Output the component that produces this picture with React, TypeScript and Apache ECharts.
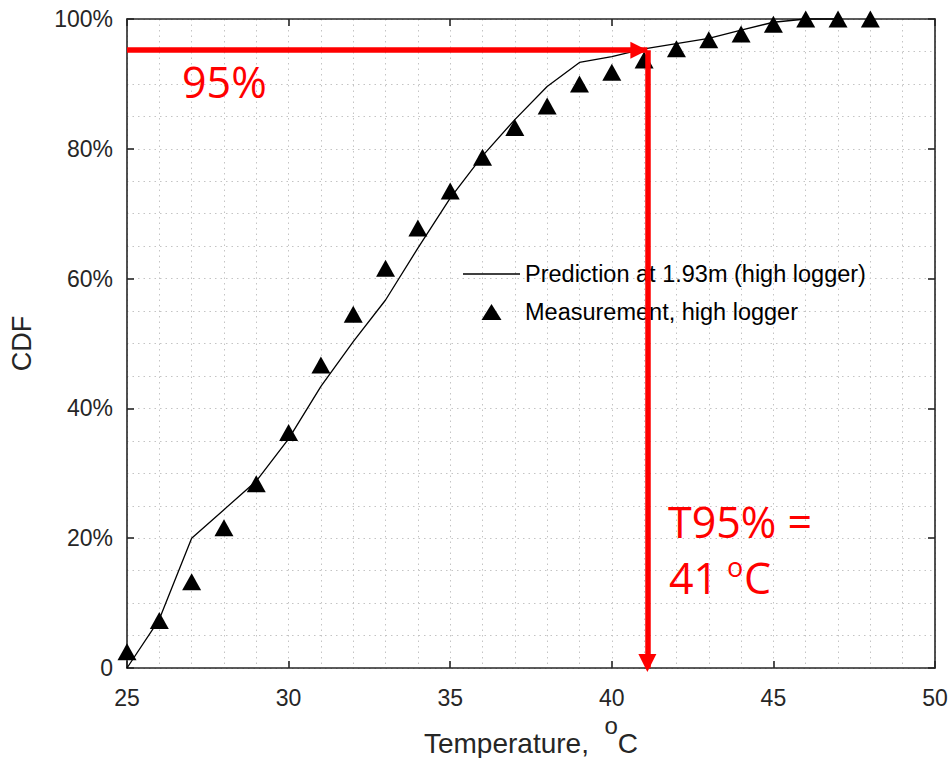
import React, { useEffect, useRef } from "react";
import * as echarts from "echarts";

// Measurement (triangles): temperature (°C) and CDF (%)
const measTemps = [25, 26, 27, 28, 29, 30, 31, 32, 33, 34, 35, 36, 37, 38, 39, 40, 41, 42, 43, 44, 45, 46, 47, 48];
const measCdf = [2.5, 7.3, 13.3, 21.6, 28.4, 36.3, 46.7, 54.5, 61.6, 67.8, 73.5, 78.7, 83.3, 86.6, 90.0, 91.8, 93.7, 95.4, 96.8, 97.7, 99.2, 100, 100, 100];

// Prediction (line)
const predTemps = [25, 26, 27, 28, 29, 30, 31, 32, 33, 34, 35, 36, 37, 38, 39, 40, 41, 42, 43, 44, 45, 46, 47];
const predCdf = [0, 7.5, 20, 24.4, 28.8, 35.3, 43.4, 50.3, 56.7, 64.7, 72.4, 78.9, 84.5, 89.6, 93.3, 94.2, 95.4, 96.2, 97.0, 98.3, 99.5, 100, 100];

// Annotation values
const p95 = 95.2;
const t95 = 41.1;

const xTicks = { min: 25, max: 50, interval: 5 };
const yTicks = { min: 0, max: 100, interval: 20 };

const predName = "Prediction at 1.93m (high logger)";
const measName = "Measurement, high logger";

const AXIS = "#262626";
const GRID = "#c4c4c4";
const RED = "#ff0000";
const FONT = "Liberation Sans";
const RFONT = "Open Sans";

export default function App() {
  const ref = useRef<HTMLDivElement>(null);
  useEffect(() => {
    if (!ref.current) return;
    const chart = echarts.init(ref.current, undefined, { renderer: "svg" });
    const dotted = { color: GRID, width: 1, type: [1.5, 4] as any };
    const baseX = {
      type: "value" as const,
      ...xTicks,
      axisLine: { show: true, onZero: false, lineStyle: { color: AXIS, width: 1.6 } },
      axisTick: { show: true, inside: true, length: 7, lineStyle: { color: AXIS, width: 1.6 } },
    };
    const baseY = {
      type: "value" as const,
      ...yTicks,
      axisLine: { show: true, onZero: false, lineStyle: { color: AXIS, width: 1.6 } },
      axisTick: { show: true, inside: true, length: 7, lineStyle: { color: AXIS, width: 1.6 } },
    };
    chart.setOption({
      animation: false,
      grid: { left: 127, right: 14, top: 19, bottom: 90, outerBoundsMode: "none", containLabel: false },
      xAxis: [
        {
          ...baseX,
          position: "bottom",
          name: "{a|Temperature,  }{s|o}{a|C}",
          nameLocation: "middle",
          nameGap: 44,
          nameTextStyle: {
            color: AXIS,
            fontFamily: FONT,
            fontSize: 28,
            rich: {
              a: { fontSize: 28, fontFamily: FONT, color: AXIS, lineHeight: 60 },
              s: { fontSize: 24, fontFamily: FONT, color: AXIS, verticalAlign: "top", lineHeight: 16 },
            },
          },
          axisLabel: { fontSize: 23, color: AXIS, fontFamily: FONT, margin: 18 },
          splitLine: { show: true, lineStyle: dotted },
          minorTick: { show: false, splitNumber: 5 },
          minorSplitLine: { show: true, lineStyle: dotted },
        },
        {
          ...baseX,
          position: "top",
          axisLabel: { show: false },
          splitLine: { show: false },
        },
      ],
      yAxis: [
        {
          ...baseY,
          position: "left",
          name: "CDF",
          nameLocation: "middle",
          nameGap: 92,
          nameTextStyle: { color: AXIS, fontFamily: FONT, fontSize: 27 },
          axisLabel: {
            fontSize: 23,
            color: AXIS,
            fontFamily: FONT,
            margin: 14,
            formatter: (v: number) => (v === 0 ? "0" : v + "%"),
          },
          splitLine: { show: true, lineStyle: dotted },
          minorTick: { show: false, splitNumber: 4 },
          minorSplitLine: { show: true, lineStyle: dotted },
        },
        {
          ...baseY,
          position: "right",
          axisLabel: { show: false },
          splitLine: { show: false },
        },
      ],
      legend: [
        {
          data: [predName],
          left: 463,
          top: 262,
          padding: 0,
          itemWidth: 57,
          itemHeight: 1.4,
          icon: "rect",
          textStyle: { fontSize: 23.5, fontFamily: FONT, color: "#000" },
        },
        {
          data: [measName],
          left: 463,
          top: 300,
          padding: 0,
          itemWidth: 57,
          itemHeight: 16,
          icon: "path://M0,0M57,16M18.5,16L28.5,0L38.5,16Z",
          textStyle: { fontSize: 23.5, fontFamily: FONT, color: "#000" },
        },
      ],
      series: [
        {
          name: predName,
          type: "line",
          data: predTemps.map((t, i) => [t, predCdf[i]]),
          symbol: "none",
          lineStyle: { color: "#000", width: 1.3 },
          itemStyle: { color: "#000" },
          clip: false,
          z: 3,
        },
        {
          name: measName,
          type: "scatter",
          data: measTemps.map((t, i) => [t, measCdf[i]]),
          symbol: "triangle",
          symbolSize: [19, 17],
          itemStyle: { color: "#000", opacity: 1 },
          clip: false,
          z: 4,
          markLine: {
            silent: true,
            z: 10,
            animation: false,
            label: { show: false },
            lineStyle: { color: RED, width: 5.5, type: "solid" },
            data: [
              [
                { coord: [xTicks.min, p95], symbol: "none" },
                { coord: [t95, p95], symbol: "triangle", symbolSize: 17, symbolOffset: [0, 8.5] },
              ],
              [
                { coord: [t95, p95], symbol: "none" },
                { coord: [t95, yTicks.min], symbol: "triangle", symbolSize: 18, symbolOffset: [0, 5] },
              ],
            ],
          },
        },
      ],
      graphic: [
        {
          type: "text",
          left: 182,
          top: 60,
          z: 20,
          style: { text: "95%", fontSize: 43, fontFamily: RFONT, fill: RED },
        },
        {
          type: "text",
          left: 668,
          top: 500,
          z: 20,
          style: { text: "T95% =", fontSize: 43, fontFamily: RFONT, fill: RED },
        },
        {
          type: "text",
          left: 669,
          top: 556,
          z: 20,
          style: { text: "41", fontSize: 43, fontFamily: RFONT, fill: RED },
        },
        {
          type: "text",
          left: 727,
          top: 553,
          z: 20,
          style: { text: "o", fontSize: 27, fontFamily: RFONT, fill: RED },
        },
        {
          type: "text",
          left: 744,
          top: 556,
          z: 20,
          style: { text: "C", fontSize: 43, fontFamily: RFONT, fill: RED },
        },
      ],
    });
    return () => chart.dispose();
  }, []);
  return (
    <div
      ref={ref}
      style={{ position: "absolute", left: 0, top: 0, width: 949, height: 758, background: "#fff" }}
    />
  );
}
